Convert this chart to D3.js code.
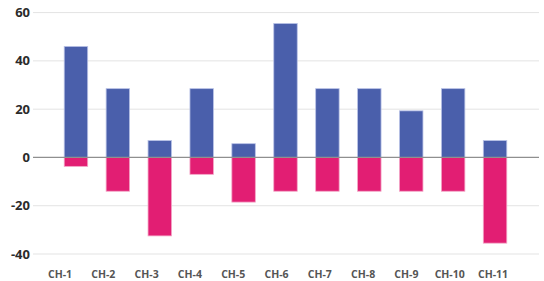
<!DOCTYPE html>
<html><head><meta charset="utf-8">
<script src="https://cdn.jsdelivr.net/npm/d3@7"></script>
<style>html,body{margin:0;padding:0;background:#fff;}svg{display:block;}</style>
</head><body>
<svg id="chart" width="544" height="281"></svg>
<script>
const categories = ["CH-1","CH-2","CH-3","CH-4","CH-5","CH-6","CH-7","CH-8","CH-9","CH-10","CH-11"];
const positiveValues = [46, 28.5, 7, 28.5, 5.7, 55.5, 28.5, 28.5, 19.3, 28.5, 7];
const negativeValues = [-3.7, -14, -32.5, -7, -18.5, -14, -14, -14, -14, -14, -35.5];
const yTicks = [-40, -20, 0, 20, 40, 60];

const svg = d3.select("#chart");
const gridLeft = 33, gridRight = 539;
const x = d3.scaleBand().domain(categories).range([55, 516]).paddingInner(0.44).paddingOuter(0.22);
const xLabel = d3.scalePoint().domain(categories).range([60, 493]);
const y = d3.scaleLinear().domain([-40, 60]).range([254, 12.6]);

const font = "'Open Sans', sans-serif";

// gridlines
svg.append("g").selectAll("line").data(yTicks.filter(d => d !== 0)).join("line")
  .attr("x1", gridLeft).attr("x2", gridRight)
  .attr("y1", d => y(d)).attr("y2", d => y(d))
  .attr("stroke", "#e3e3e3").attr("stroke-width", 1);

// y labels
svg.append("g").selectAll("text").data(yTicks).join("text")
  .attr("x", 30).attr("y", d => y(d)).attr("dy", "0.35em")
  .attr("text-anchor", "end")
  .attr("font-family", font).attr("font-weight", 700).attr("font-size", 13)
  .attr("fill", "#2b2b2b").text(d => d);

// bars
const bw = x.bandwidth();
svg.append("g").selectAll("rect").data(categories).join("rect")
  .attr("x", d => x(d)).attr("width", bw)
  .attr("y", (d, i) => y(positiveValues[i]))
  .attr("height", (d, i) => y(0) - y(positiveValues[i]))
  .attr("fill", "#4a5fab").attr("stroke", "#b9c2e6").attr("stroke-width", 0.8);
svg.append("g").selectAll("rect").data(categories).join("rect")
  .attr("x", d => x(d)).attr("width", bw)
  .attr("y", y(0))
  .attr("height", (d, i) => y(negativeValues[i]) - y(0))
  .attr("fill", "#e21e73").attr("stroke", "#f3a5c6").attr("stroke-width", 0.8);

// zero line
svg.append("line").attr("x1", gridLeft).attr("x2", gridRight)
  .attr("y1", y(0)).attr("y2", y(0))
  .attr("stroke", "#8f8f8f").attr("stroke-width", 1.2);

// x labels
svg.append("g").selectAll("text").data(categories).join("text")
  .attr("x", d => xLabel(d)).attr("y", 274).attr("dy", "0.35em")
  .attr("text-anchor", "middle")
  .attr("font-family", font).attr("font-weight", 700).attr("font-size", 10.5)
  .attr("fill", "#555").text(d => d);
</script>
</body></html>
